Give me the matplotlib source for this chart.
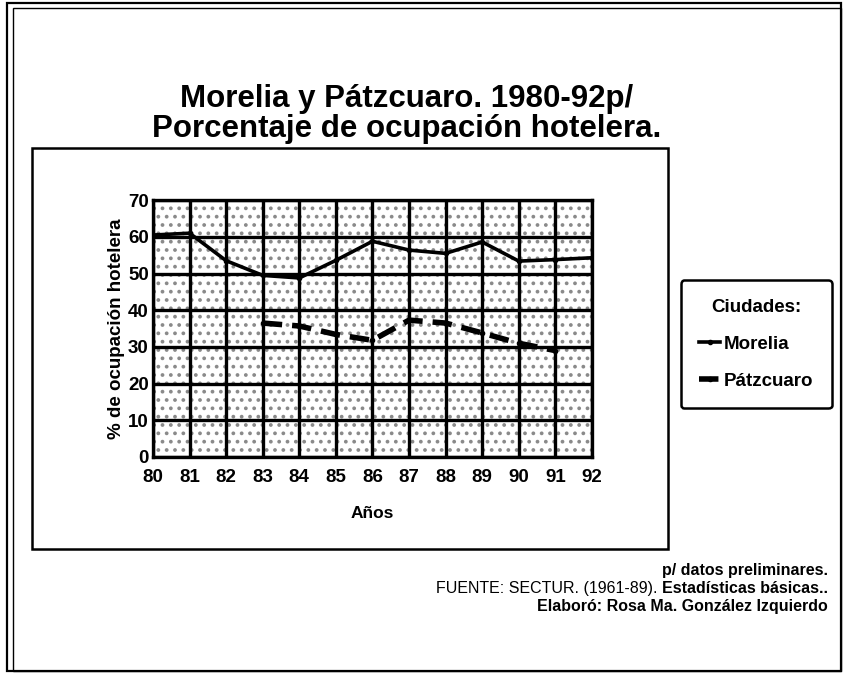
import matplotlib.pyplot as plt
from matplotlib.patches import Rectangle

plt.rcParams['font.family'] = ['Liberation Sans', 'DejaVu Sans']
plt.rcParams['hatch.color'] = '#8a8a8a'
plt.rcParams['hatch.linewidth'] = 1.5

# hotel occupancy (%), 1980-92 (92 preliminary)
years = [80, 81, 82, 83, 84, 85, 86, 87, 88, 89, 90, 91, 92]
morelia = [60.5, 61, 53.5, 49.5, 48.8, 53.6, 58.8, 56.4, 55.5, 58.6, 53.4, 53.8, 54.3]
patz_years = [83, 84, 85, 86, 87, 88, 89, 90, 91]
patzcuaro = [36.5, 35.7, 33.4, 31.8, 37.3, 36.5, 33.8, 31, 29]
y_ticks = [0, 10, 20, 30, 40, 50, 60, 70]

fig = plt.figure(figsize=(8.44, 6.74), dpi=100)

# page frame (double line) and the box around the chart
fig.patches.append(Rectangle((0.008, 0.004), 0.988, 0.991, transform=fig.transFigure,
                             fill=False, lw=1.6, ec='black'))
fig.patches.append(Rectangle((0.015, 0.004), 0.981, 0.984, transform=fig.transFigure,
                             fill=False, lw=1.0, ec='black'))
fig.patches.append(Rectangle((0.038, 0.185), 0.754, 0.595, transform=fig.transFigure,
                             fill=False, lw=1.8, ec='black'))

fig.text(0.482, 0.853, 'Morelia y Pátzcuaro. 1980-92p/', ha='center', va='center',
         fontsize=22.5, fontweight='bold')
fig.text(0.482, 0.809, 'Porcentaje de ocupación hotelera.', ha='center', va='center',
         fontsize=22.5, fontweight='bold')

ax = fig.add_axes([0.1813, 0.322, 0.520, 0.381])
ax.add_patch(Rectangle((0, 0), 1, 1, transform=ax.transAxes, facecolor='white',
                       hatch='..', edgecolor='#8a8a8a', lw=0, zorder=0))

ax.plot(years, morelia, color='black', lw=2.6, marker='o', markersize=3,
        label='Morelia', zorder=4)
ax.plot(patz_years, patzcuaro, color='black', lw=4, dashes=(3.5, 1.8),
        marker='o', markersize=3, label='Pátzcuaro', zorder=4)

ax.set_xlim(years[0], years[-1])
ax.set_ylim(0, 70)
ax.set_xticks(years)
ax.set_xticklabels([str(y) for y in years])
ax.set_yticks(y_ticks)
ax.grid(True, color='black', lw=2.4, zorder=2)
ax.set_axisbelow(False)
ax.tick_params(length=0, labelsize=13.5)
ax.tick_params(axis='x', pad=9)
ax.tick_params(axis='y', pad=3)
for lab in ax.get_xticklabels() + ax.get_yticklabels():
    lab.set_fontweight('bold')
for s in ax.spines.values():
    s.set_linewidth(2.4)

ax.set_xlabel('Años', fontsize=12.5, fontweight='bold', labelpad=14)
ax.set_ylabel('% de ocupación hotelera', fontsize=13.5, fontweight='bold', labelpad=2)

leg = fig.legend(title='Ciudades:', loc='center', bbox_to_anchor=(0.896, 0.489),
                 frameon=True, fancybox=True, edgecolor='black', framealpha=1,
                 handlelength=1.1, handletextpad=0.2, labelspacing=1.05,
                 borderpad=1.0, borderaxespad=0,
                 prop={'weight': 'bold', 'size': 13.5},
                 title_fontproperties={'weight': 'bold', 'size': 13.5})
leg.get_frame().set_linewidth(1.8)
leg._legend_box.sep = 14

# notes under the chart, right aligned; mixed weights chained with annotate
r = 0.981
note_size = 11.5
fig.text(r, 0.153, 'p/ datos preliminares.', ha='right', va='center',
         fontsize=note_size, fontweight='bold')
t2 = fig.text(r, 0.127, 'Estadísticas básicas..', ha='right', va='center',
              fontsize=note_size, fontweight='bold')
ax.annotate('FUENTE: SECTUR. (1961-89). ', xy=(0, 0.5), xycoords=t2,
            ha='right', va='center', fontsize=note_size, annotation_clip=False)
fig.text(r, 0.100, 'Elaboró: Rosa Ma. González Izquierdo', ha='right',
         va='center', fontsize=note_size, fontweight='bold')

fig.savefig('out.png', dpi=100)
